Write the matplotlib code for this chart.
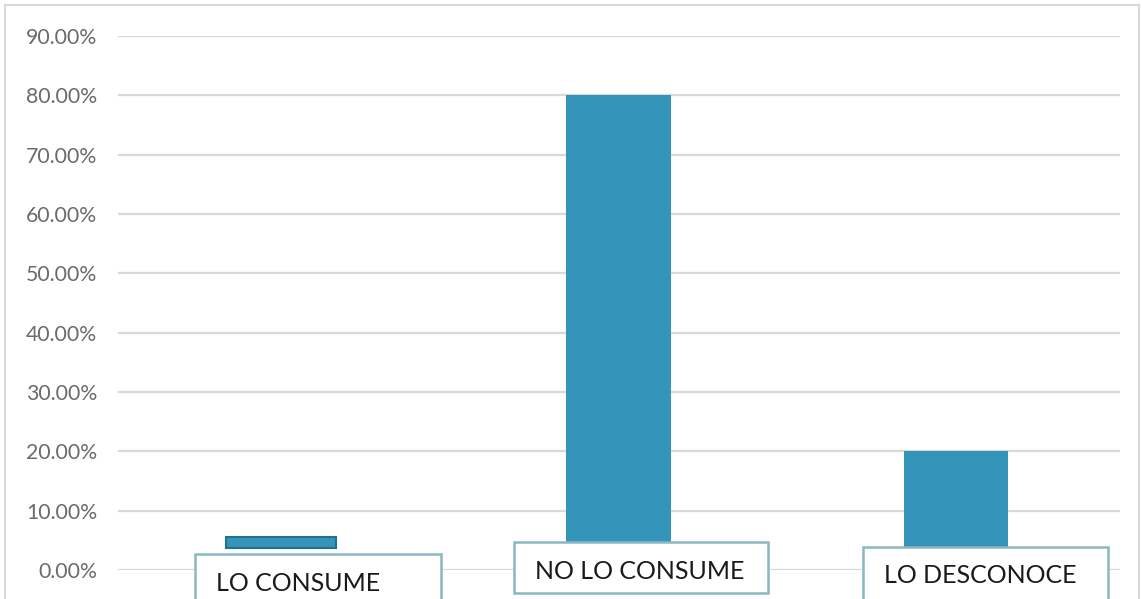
import matplotlib.pyplot as plt
from matplotlib.patches import Rectangle
from matplotlib.ticker import PercentFormatter

# Data
categorias = ["LO CONSUME", "NO LO CONSUME", "LO DESCONOCE"]
valores = [0.0556, 0.80, 0.20]
base = [0.037, 0.0, 0.0]

# Label box layout (offset from category centre, axis units)
caja_x = [(-0.255, 0.474), (-0.310, 0.443), (-0.276, 0.450)]
caja_y = [(-0.08, 0.027), (-0.039, 0.047), (-0.08, 0.039)]
texto_x = [-0.193, -0.246, -0.213]
texto_y = [-0.022, -0.002, -0.010]

plt.rcParams["font.family"] = ["Lato", "DejaVu Sans"]

fig = plt.figure(figsize=(11.42, 5.99), dpi=100)
ax = fig.add_axes([118 / 1142, 29 / 599, 1002 / 1142, 534 / 599])

azul = "#3494ba"
x = list(range(len(categorias)))
alturas = [v - b for v, b in zip(valores, base)]
barras = ax.bar(x, alturas, bottom=base, width=0.31, color=azul, zorder=2)
barras[0].set_edgecolor("#22708f")
barras[0].set_linewidth(1.5)
barras[0].set_width(0.325)
barras[0].set_x(-0.1625)

ax.set_ylim(0, 0.9)
ax.set_xlim(-0.483, 2.486)
ax.set_yticks([i / 10 for i in range(10)])
ax.yaxis.set_major_formatter(PercentFormatter(1.0, decimals=2))
ax.tick_params(axis="y", length=0, pad=15, labelsize=15.3, labelcolor="#6b6b6b")
ax.set_xticks([])
ax.grid(axis="y", color="#d9d9d9", linewidth=1.6, zorder=0)
for s in ax.spines.values():
    s.set_visible(False)

for i, cat in enumerate(categorias):
    x0, x1 = caja_x[i]
    y0, y1 = caja_y[i]
    ax.add_patch(Rectangle((i + x0, y0), x1 - x0, y1 - y0, facecolor="white",
                           edgecolor="#8ab7c2", linewidth=1.8, clip_on=False, zorder=3))
    ax.text(i + texto_x[i], texto_y[i], cat, fontsize=18, color="#1a1a1a",
            ha="left", va="center", clip_on=False, zorder=4)

# outer chart border
fig.add_artist(Rectangle((5 / 1142, -0.1), 1134 / 1142, 0.1 + 594 / 599,
                         transform=fig.transFigure, fill=False,
                         edgecolor="#d9d9d9", linewidth=1.5))

fig.savefig("out.png", dpi=100)
